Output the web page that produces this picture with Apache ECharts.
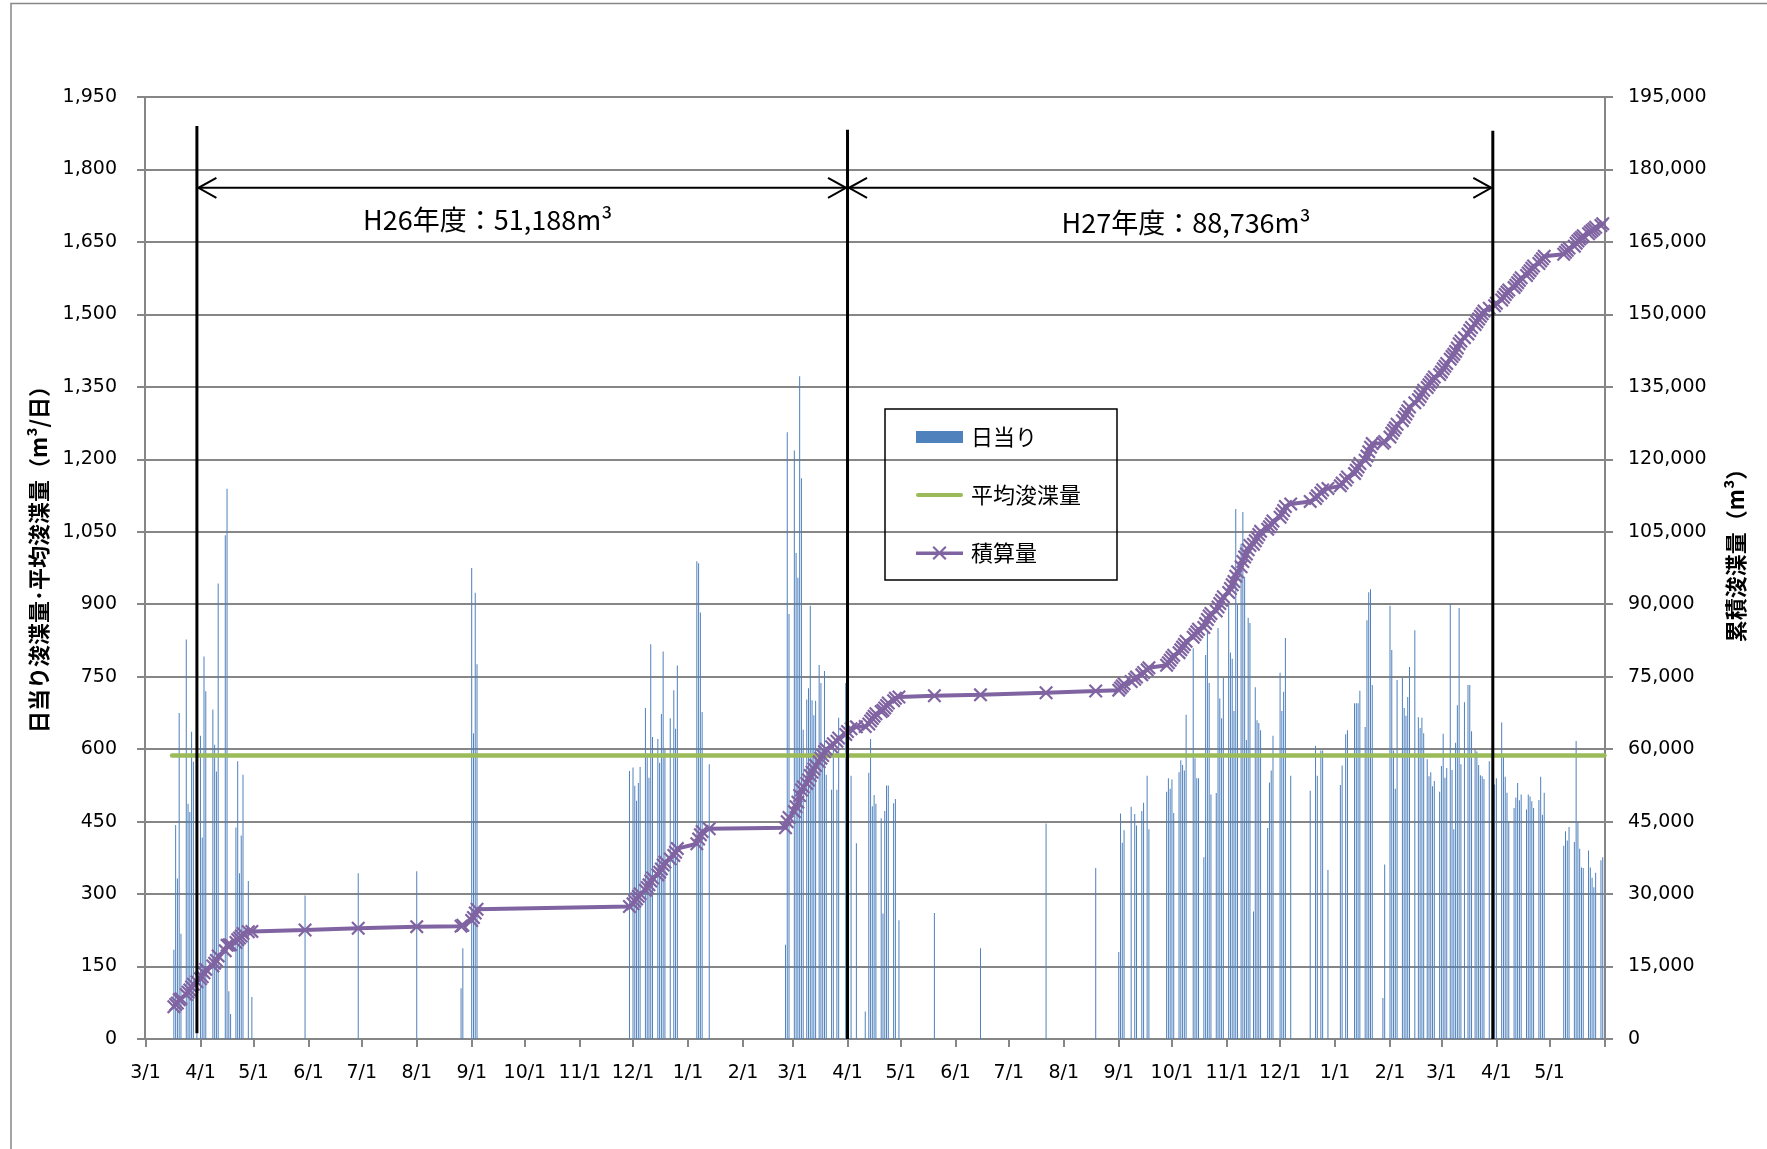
<!DOCTYPE html>
<html>
<head>
<meta charset="utf-8">
<title>浚渫量の推移</title>
<script src="https://cdn.jsdelivr.net/npm/echarts@6/dist/echarts.min.js"></script>
<style>
  html, body { margin: 0; padding: 0; background: #ffffff; }
  #chart { width: 1767px; height: 1149px; }
</style>
</head>
<body>
<div id="chart"></div>
<script>
// 日当り浚渫量 (m3/日), one entry per working day: [date, volume]
const dailyMar2014 = [
  ['2014-03-17',185],['2014-03-18',443],['2014-03-19',332],['2014-03-20',675],['2014-03-21',218],
  ['2014-03-24',827],['2014-03-25',487],['2014-03-26',470],['2014-03-27',636],['2014-03-28',574],
  ['2014-03-30',510]
];

// H26年度 (2014-04 .. 2015-03)
const dailyFY2014 = [
  ['2014-04-01',628],['2014-04-02',417],['2014-04-03',792],['2014-04-04',720],
  ['2014-04-08',682],['2014-04-09',609],['2014-04-10',554],['2014-04-11',943],
  ['2014-04-15',1043],['2014-04-16',1139],['2014-04-17',99],['2014-04-18',52],
  ['2014-04-21',438],['2014-04-22',575],['2014-04-23',343],['2014-04-24',421],['2014-04-25',547],
  ['2014-04-28',327],['2014-04-30',87],
  ['2014-05-30',297],['2014-06-29',343],['2014-08-01',347],
  ['2014-08-26',105],['2014-08-27',188],['2014-09-01',975],['2014-09-02',633],['2014-09-03',924],['2014-09-04',776],
  ['2014-11-29',555],['2014-12-01',562],['2014-12-02',524],['2014-12-03',493],['2014-12-04',530],['2014-12-05',563],
  ['2014-12-08',685],['2014-12-09',591],['2014-12-10',541],['2014-12-11',817],['2014-12-12',625],
  ['2014-12-15',621],['2014-12-16',572],['2014-12-17',673],['2014-12-18',802],['2014-12-19',600],
  ['2014-12-22',664],['2014-12-24',722],['2014-12-25',642],['2014-12-26',773],
  ['2015-01-06',989],['2015-01-07',985],['2015-01-08',883],['2015-01-09',677],['2015-01-13',569],
  ['2015-02-25',195],['2015-02-26',1256],['2015-02-27',880],
  ['2015-03-02',1218],['2015-03-03',1006],['2015-03-04',955],['2015-03-05',1372],['2015-03-06',1161],['2015-03-07',640],
  ['2015-03-09',703],['2015-03-10',726],['2015-03-11',897],['2015-03-12',701],['2015-03-13',670],['2015-03-14',700],
  ['2015-03-16',774],['2015-03-17',737],['2015-03-18',580],['2015-03-19',762],['2015-03-20',547],
  ['2015-03-23',516],['2015-03-24',612],['2015-03-26',516],['2015-03-27',665],['2015-03-31',737]
];

// H27年度 (2015-04 .. 2016-03)
const dailyFY2015 = [
  ['2015-04-01',620],['2015-04-03',545],['2015-04-06',405],['2015-04-11',57],
  ['2015-04-13',551],['2015-04-14',621],['2015-04-15',482],['2015-04-16',505],['2015-04-17',487],
  ['2015-04-20',457],['2015-04-21',260],['2015-04-22',472],['2015-04-23',525],['2015-04-24',525],
  ['2015-04-27',488],['2015-04-28',497],['2015-04-30',246],
  ['2015-05-20',261],['2015-06-15',188],['2015-07-22',446],['2015-08-19',354],
  ['2015-09-01',180],['2015-09-02',467],['2015-09-03',406],['2015-09-04',432],['2015-09-08',481],
  ['2015-09-10',466],['2015-09-11',442],['2015-09-14',472],['2015-09-15',489],['2015-09-17',545],
  ['2015-09-18',434],['2015-09-28',512],['2015-09-29',540],['2015-09-30',518],
  ['2015-10-01',537],['2015-10-02',468],['2015-10-05',552],['2015-10-06',577],['2015-10-07',567],
  ['2015-10-08',556],['2015-10-09',671],['2015-10-13',809],['2015-10-14',581],['2015-10-15',540],
  ['2015-10-16',540],['2015-10-19',376],['2015-10-20',795],['2015-10-21',843],['2015-10-22',737],
  ['2015-10-23',506],['2015-10-26',509],['2015-10-27',851],['2015-10-28',705],['2015-10-29',664],
  ['2015-10-30',748],
  ['2015-11-02',901],['2015-11-03',800],['2015-11-04',787],['2015-11-05',679],['2015-11-06',1097],
  ['2015-11-07',900],['2015-11-09',1025],['2015-11-10',1091],['2015-11-11',957],['2015-11-12',619],
  ['2015-11-13',872],['2015-11-14',861],['2015-11-16',264],['2015-11-17',728],['2015-11-18',660],
  ['2015-11-19',654],['2015-11-20',639],['2015-11-24',437],['2015-11-25',531],['2015-11-26',556],
  ['2015-11-27',628],
  ['2015-12-01',758],['2015-12-02',679],['2015-12-03',719],['2015-12-04',830],['2015-12-07',545],
  ['2015-12-18',514],['2015-12-21',607],['2015-12-22',545],['2015-12-24',597],['2015-12-25',597],
  ['2015-12-28',350],
  ['2016-01-04',526],['2016-01-05',566],['2016-01-07',631],['2016-01-08',639],['2016-01-12',695],
  ['2016-01-13',695],['2016-01-14',695],['2016-01-15',721],['2016-01-18',646],['2016-01-19',867],
  ['2016-01-20',925],['2016-01-21',931],['2016-01-22',733],['2016-01-28',85],['2016-01-29',361],
  ['2016-02-01',897],['2016-02-02',805],['2016-02-03',597],['2016-02-04',518],['2016-02-05',743],
  ['2016-02-08',748],['2016-02-09',685],['2016-02-10',669],['2016-02-11',708],['2016-02-12',770],
  ['2016-02-15',846],['2016-02-17',666],['2016-02-18',644],['2016-02-19',665],['2016-02-20',633],
  ['2016-02-22',579],['2016-02-23',544],['2016-02-24',552],['2016-02-25',523],['2016-02-26',534],
  ['2016-02-29',512],
  ['2016-03-01',565],['2016-03-02',632],['2016-03-03',541],['2016-03-04',561],['2016-03-06',900],
  ['2016-03-07',557],['2016-03-08',434],['2016-03-09',613],['2016-03-10',691],['2016-03-11',892],
  ['2016-03-12',569],['2016-03-14',697],['2016-03-16',733],['2016-03-17',733],['2016-03-18',637],
  ['2016-03-20',600],['2016-03-21',595],['2016-03-22',567],['2016-03-23',546],['2016-03-24',544],
  ['2016-03-25',538],['2016-03-28',575],['2016-03-31',527]
];

// H28年度 (2016-04 ..)
const dailyFY2016 = [
  ['2016-04-01',540],['2016-04-04',655],['2016-04-05',584],['2016-04-06',543],['2016-04-07',510],
  ['2016-04-08',451],['2016-04-11',478],['2016-04-12',500],['2016-04-13',530],['2016-04-14',494],
  ['2016-04-15',506],['2016-04-18',475],['2016-04-19',506],['2016-04-20',502],['2016-04-21',492],
  ['2016-04-22',478],['2016-04-25',495],['2016-04-26',543],['2016-04-27',464],['2016-04-28',510],
  ['2016-05-09',400],['2016-05-10',430],['2016-05-11',411],['2016-05-12',439],['2016-05-15',408],
  ['2016-05-16',617],['2016-05-17',448],['2016-05-18',394],['2016-05-19',355],['2016-05-20',354],
  ['2016-05-23',390],['2016-05-24',355],['2016-05-25',334],['2016-05-26',314],['2016-05-27',344],
  ['2016-05-30',370],['2016-05-31',376]
];

// 積算量 carried in from before the first plotted day (m3)
const openingVolume = 6500;

// 平均浚渫量 (m3/日) and the span it is drawn over
const averageDaily = 587;
const averageSpan = ['2014-03-16', '2016-06-01'];

// date axis extent
const axisRange = ['2014-03-01', '2016-06-01'];

// fiscal-year boundaries and totals
const fiscalBoundaries = ['2014-03-30', '2015-04-01', '2016-03-30'];
const fiscalTotals = ['H26年度：51,188m³', 'H27年度：88,736m³'];

const seriesNames = ['日当り', '平均浚渫量', '積算量'];
const leftAxisName = '日当り浚渫量･平均浚渫量（m³/日）';
const rightAxisName = '累積浚渫量（m³）';

// ---------------------------------------------------------------
function toTime(s) {
  const [y, m, d] = s.split('-').map(Number);
  return new Date(y, m - 1, d).getTime();
}
const DAY = 86400000;

const daily = [...dailyMar2014, ...dailyFY2014, ...dailyFY2015, ...dailyFY2016]
  .map(([d, v]) => [toTime(d), v]);

// running total of the daily volumes
const cumulative = [];
let running = openingVolume;
daily.forEach(([t, v]) => { running += v; cumulative.push([t, running]); });

const GREY = '#868686';
const NUM_FONT = 'DejaVu Sans';
const crossSymbol = 'path://M0,2.2L2.2,0L10,7.8L17.8,0L20,2.2L12.2,10L20,17.8L17.8,20L10,12.2L2.2,20L0,17.8L7.8,10Z';
const fmt = v => Number(v).toLocaleString('en-US');

// legend keys
const barKey = 'path://M0,0H47V12H0Z';
const avgKey = 'path://M2,0H45A2,2 0 0 1 45,4H2A2,2 0 0 1 2,0Z';
const cumKey = 'path://M0,7H50V10.5H0Z M17.5,2.6L19.1,1L25,6.9L30.9,1L32.5,2.6L26.6,8.5L32.5,14.4L30.9,16L25,10.1L19.1,16L17.5,14.4L23.4,8.5Z';

const xMax = toTime(axisRange[1]);

const chart = echarts.init(document.getElementById('chart'), null, { renderer: 'canvas' });

const option = {
  animation: false,
  backgroundColor: '#ffffff',
  grid: { left: 145, right: 162, top: 97, bottom: 110, containLabel: false },
  legend: {
    orient: 'vertical',
    left: 885,
    top: 409,
    padding: [17, 36, 16, 31],
    itemGap: 36,
    itemWidth: 47,
    itemHeight: 16,
    symbolKeepAspect: true,
    borderColor: '#000000',
    borderWidth: 1.5,
    borderRadius: 0,
    selectedMode: false,
    textStyle: { fontFamily: 'Noto Sans CJK JP', fontSize: 22, color: '#000000', lineHeight: 22, padding: [0, 0, 0, 3] },
    data: [
      { name: seriesNames[0], icon: barKey, itemStyle: { color: '#4F81BD', opacity: 1 } },
      { name: seriesNames[1], icon: avgKey, itemStyle: { color: '#9BBB59' } },
      { name: seriesNames[2], icon: cumKey, itemStyle: { color: '#8064A2' } }
    ]
  },
  xAxis: {
    type: 'time',
    min: toTime(axisRange[0]),
    max: xMax,
    splitNumber: 27,
    minInterval: 28 * DAY,
    maxInterval: 31 * DAY,
    axisLine: { show: true, lineStyle: { color: GREY, width: 2 } },
    axisTick: { show: true, length: 8, lineStyle: { color: GREY, width: 2 } },
    axisLabel: {
      color: '#000000', fontFamily: NUM_FONT, fontSize: 19, margin: 25,
      hideOverlap: false,
      formatter: value => {
        if (value >= xMax) return '';
        const d = new Date(value);
        return (d.getMonth() + 1) + '/' + d.getDate();
      }
    },
    splitLine: { show: false }
  },
  yAxis: [
    {
      type: 'value', min: 0, max: 1950, interval: 150, position: 'left',
      name: leftAxisName, nameLocation: 'middle', nameRotate: 90, nameGap: 95,
      nameTextStyle: { fontFamily: 'Noto Sans CJK JP', fontWeight: 'bold', fontSize: 22, color: '#000000', padding: [0, 0, 0, 28] },
      axisLine: { show: true, lineStyle: { color: GREY, width: 2 } },
      axisTick: { show: true, length: 8, lineStyle: { color: GREY, width: 2 } },
      axisLabel: { color: '#000000', fontFamily: NUM_FONT, fontSize: 19, margin: 28, formatter: fmt },
      splitLine: { show: true, lineStyle: { color: GREY, width: 2 } }
    },
    {
      type: 'value', min: 0, max: 195000, interval: 15000, position: 'right',
      name: rightAxisName, nameLocation: 'middle', nameRotate: 90, nameGap: 120,
      nameTextStyle: { fontFamily: 'Noto Sans CJK JP', fontWeight: 'bold', fontSize: 22, color: '#000000', padding: [0, 0, 0, 36] },
      axisLine: { show: true, lineStyle: { color: GREY, width: 2 } },
      axisTick: { show: true, length: 8, lineStyle: { color: GREY, width: 2 } },
      axisLabel: { color: '#000000', fontFamily: NUM_FONT, fontSize: 19, margin: 23, formatter: fmt },
      splitLine: { show: false }
    }
  ],
  series: [
    {
      name: seriesNames[0], type: 'bar', xAxisIndex: 0, yAxisIndex: 0,
      data: daily, barWidth: 1,
      itemStyle: { color: '#4F81BD' },
      emphasis: { disabled: true }
    },
    {
      name: seriesNames[1], type: 'line', xAxisIndex: 0, yAxisIndex: 0,
      data: averageSpan.map(d => [toTime(d), averageDaily]),
      symbol: 'none',
      lineStyle: { color: '#9BBB59', width: 4.5, cap: 'round' },
      itemStyle: { color: '#9BBB59' },
      emphasis: { disabled: true }
    },
    {
      name: seriesNames[2], type: 'line', xAxisIndex: 0, yAxisIndex: 1,
      data: cumulative,
      symbol: crossSymbol, symbolSize: 14, showSymbol: true,
      lineStyle: { color: '#8064A2', width: 4 },
      itemStyle: { color: '#8064A2' },
      emphasis: { disabled: true }
    }
  ]
};

chart.setOption(option);

// fiscal-year markers, spans and totals drawn on top of the plot
const px = (d, v) => chart.convertToPixel({ xAxisIndex: 0, yAxisIndex: 0 }, [toTime(d), v]);
const dividerTop = [1890, 1882, 1880];
const dividerBottom = [12, 0, 0];
const spanLevel = 1762;
const totalAnchors = [['2014-09-10', 1695], ['2015-10-09', 1689]];

const graphics = [];
graphics.push({
  type: 'rect', z: 1, silent: true,
  shape: { x: 11, y: 3.5, width: 1800, height: 1200 },
  style: { fill: 'none', stroke: '#878787', lineWidth: 1.5 }
});
const xs = fiscalBoundaries.map((d, i) => {
  const top = px(d, dividerTop[i]);
  const bottom = px(d, dividerBottom[i]);
  graphics.push({
    type: 'line', z: 100, silent: true,
    shape: { x1: top[0], y1: top[1], x2: bottom[0], y2: bottom[1] },
    style: { stroke: '#000000', lineWidth: 3 }
  });
  return top[0];
});
for (let i = 0; i < xs.length - 1; i++) {
  const y = px(fiscalBoundaries[i], spanLevel)[1];
  const a = xs[i] + 1.5, b = xs[i + 1] - 1.5;
  graphics.push({
    type: 'line', z: 100, silent: true,
    shape: { x1: a, y1: y, x2: b, y2: y },
    style: { stroke: '#000000', lineWidth: 2 }
  });
  graphics.push({
    type: 'polyline', z: 100, silent: true,
    shape: { points: [[a + 18, y - 10], [a, y], [a + 18, y + 10]] },
    style: { stroke: '#000000', lineWidth: 2, fill: null }
  });
  graphics.push({
    type: 'polyline', z: 100, silent: true,
    shape: { points: [[b - 18, y - 10], [b, y], [b - 18, y + 10]] },
    style: { stroke: '#000000', lineWidth: 2, fill: null }
  });
  const p = px(totalAnchors[i][0], totalAnchors[i][1]);
  graphics.push({
    type: 'text', z: 100, silent: true,
    x: p[0], y: p[1],
    style: {
      text: fiscalTotals[i], align: 'center', verticalAlign: 'middle',
      fontFamily: 'Noto Sans CJK JP', fontSize: 27, fill: '#000000'
    }
  });
}
chart.setOption({ graphic: graphics });
</script>
</body>
</html>
